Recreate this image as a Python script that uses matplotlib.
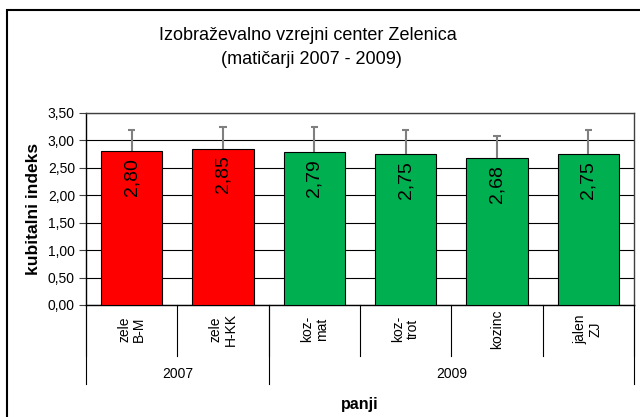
import matplotlib
matplotlib.use("Agg")
import matplotlib.pyplot as plt
from matplotlib.patches import Rectangle
from matplotlib.lines import Line2D

plt.rcParams['font.family'] = ['Liberation Sans', 'DejaVu Sans']

categories = ["zele\nB-M", "zele\nH-KK", "koz-\nmat", "koz-\ntrot", "kozinc", "jalen\nZJ"]
values = [2.80, 2.85, 2.79, 2.75, 2.68, 2.75]
errors = [0.39, 0.40, 0.46, 0.44, 0.40, 0.44]
value_labels = ["2,80", "2,85", "2,79", "2,75", "2,68", "2,75"]
colors = ["#FF0000", "#FF0000", "#00B050", "#00B050", "#00B050", "#00B050"]
groups = ["2007", "2009"]
group_sizes = [2, 4]
yticks = [0.0, 0.5, 1.0, 1.5, 2.0, 2.5, 3.0, 3.5]
ytick_labels = ["0,00", "0,50", "1,00", "1,50", "2,00", "2,50", "3,00", "3,50"]

W, H = 640, 417
fig = plt.figure(figsize=(W / 100, H / 100), dpi=100)
fig.patch.set_facecolor("white")

# outer frame
fig.patches.append(Rectangle((7 / W, -0.2), 1.2, (H - 10) / H + 0.2, transform=fig.transFigure,
                             fill=False, edgecolor="black", linewidth=1.5))

left, right, top, bottom = 86, 634, 113, 305
ax = fig.add_axes([left / W, (H - bottom) / H, (right - left) / W, (bottom - top) / H])

x = [i + 0.5 for i in range(len(values))]
ax.bar(x, values, width=0.675, color=colors, edgecolor="black", linewidth=0.8, zorder=3)

# upper-only error bars
tops = [v + e for v, e in zip(values, errors)]
ax.vlines(x, values, tops, color="#7F7F7F", linewidth=1.5, zorder=4)
ax.hlines(tops, [xi - 0.04 for xi in x], [xi + 0.04 for xi in x], color="#7F7F7F",
          linewidth=1.5, zorder=4)

for xi, v, lab in zip(x, values, value_labels):
    ax.annotate(lab, (xi, v), xytext=(0, -5), textcoords="offset points", rotation=90,
                ha="center", va="top", fontsize=14, zorder=5)

ax.set_xlim(0, len(values))
ax.set_ylim(0, 3.5)
ax.set_yticks(yticks)
ax.set_yticklabels(ytick_labels, fontsize=10)
ax.yaxis.grid(True, color="black", linewidth=0.8, zorder=0)
ax.set_axisbelow(True)
ax.set_xticks([])
ax.tick_params(axis="y", direction="out", length=5, width=0.8, color="#404040", pad=3)
for s in ["left", "bottom"]:
    ax.spines[s].set_color("black")
    ax.spines[s].set_linewidth(1.0)
for s in ["top", "right"]:
    ax.spines[s].set_color("#404040")
    ax.spines[s].set_linewidth(1.0)

ax.set_ylabel("kubitalni indeks", fontsize=12.5, fontweight="bold", labelpad=5)

# category axis (two levels)
trans = ax.get_xaxis_transform()
def ypx(py):
    return (H - py - (H - bottom)) / (bottom - top)

cat_bottom = ypx(356)
grp_bottom = ypx(384)
for i in range(len(values) + 1):
    ax.add_line(Line2D([i, i], [0, cat_bottom], transform=trans, color="black", linewidth=0.8, clip_on=False))
start = 0
group_edges = [0]
for g in group_sizes:
    start += g
    group_edges.append(start)
for e in group_edges:
    ax.add_line(Line2D([e, e], [0, grp_bottom], transform=trans, color="black", linewidth=0.8, clip_on=False))

for xi, c in zip(x, categories):
    ax.text(xi, ypx(329), c, transform=trans, rotation=90, ha="center", va="center",
            multialignment="center", fontsize=10, linespacing=1.1)

for gi, g in enumerate(groups):
    cx = (group_edges[gi] + group_edges[gi + 1]) / 2
    ax.text(cx, ypx(374), g, transform=trans, ha="center", va="center", fontsize=10)

ax.text((0 + len(values)) / 2, ypx(405), "panji", transform=trans, ha="center", va="center",
        fontsize=11.5, fontweight="bold")

fig.text(308 / W, 1 - 36 / H, "Izobraževalno vzrejni center Zelenica", ha="center", va="center", fontsize=13)
fig.text(311 / W, 1 - 59 / H, "(matičarji 2007 - 2009)", ha="center", va="center", fontsize=13)

fig.savefig("out.png", dpi=100, facecolor="white")
